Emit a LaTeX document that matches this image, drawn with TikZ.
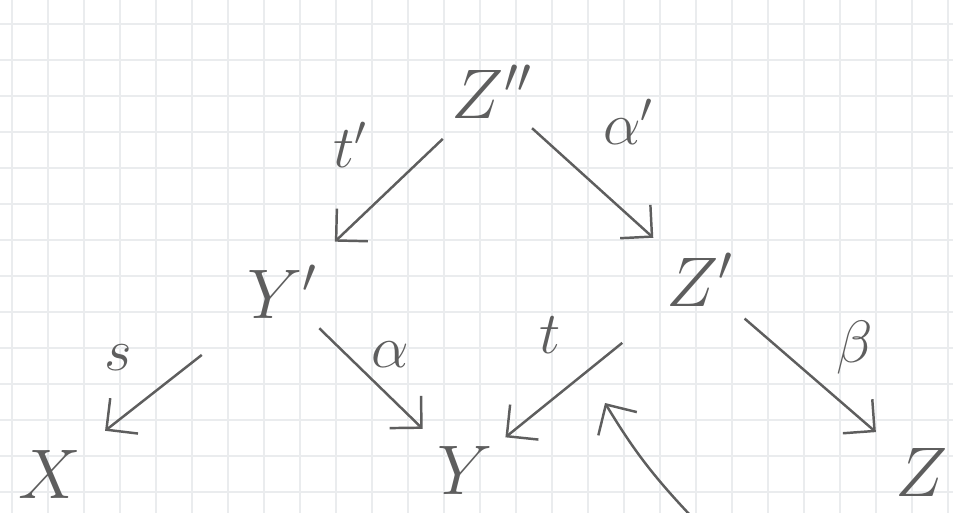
\RequirePackage{fix-cm}
\documentclass[tikz,border=0pt]{standalone}
\usepackage{tikz}
\usetikzlibrary{arrows.meta}
\definecolor{pencil}{HTML}{5E5E5E}
\definecolor{gridGray}{HTML}{EAECEE}

\begin{document}
\begin{tikzpicture}[
  x=0.02cm, y=-0.02cm,
  obj/.style={text=pencil, font=\fontsize{40}{44}\selectfont, inner sep=0pt},
  lbl/.style={text=pencil, font=\fontsize{34}{38}\selectfont, inner sep=0pt},
  arr/.style={-{Straight Barb[length=4.5mm, width=9mm, line width=1.4pt]},
              draw=pencil, line width=1.4pt},
  gridline/.style={draw=gridGray, line width=0.6pt}
]
\useasboundingbox (0,0) rectangle (953,513);
\fill[white] (0,0) rectangle (953,513);
% squared paper
\foreach \gx in {12,48,...,948} \draw[gridline] (\gx,0) -- (\gx,513);
\foreach \gy in {24,60,...,510} \draw[gridline] (0,\gy) -- (953,\gy);

% objects
\node[obj] (zz) at (492,92) {$Z''$};
\node[obj] (yp) at (282,292) {$Y'$};
\node[obj] (zp) at (700,280) {$Z'$};
\node[obj] (x) at (50,474) {$X$};
\node[obj] (y) at (465,470) {$Y$};
\node[obj] (z) at (922,472) {$Z$};
\coordinate (foot) at (690,515);
\coordinate (tip) at (605,403);

% morphisms
\draw[arr, shorten <=1.36cm, shorten >=1.46cm] (zz.center) -- (yp.center);
\draw[arr, shorten <=1.08cm, shorten >=1.26cm] (zz.center) -- (zp.center);
\draw[arr, shorten <=2.04cm, shorten >=1.4cm] (yp.center) -- (x.center);
\draw[arr, shorten <=1.04cm, shorten >=1.18cm] (yp.center) -- (y.center);
\draw[arr, shorten <=2cm, shorten >=1.04cm] (zp.center) -- (y.center);
\draw[arr, shorten <=1.18cm, shorten >=1.22cm] (zp.center) -- (z.center);
\draw[arr] (foot) to[bend left=6] (tip);

% labels
\node[lbl] (lt2) at (350,145) {$t'$};
\node[lbl] (la2) at (628,122) {$\alpha'$};
\node[lbl] (ls) at (118,358) {$s$};
\node[lbl] (la) at (390,355) {$\alpha$};
\node[lbl] (lt) at (550,335) {$t$};
\node[lbl] (lb) at (855,348) {$\beta$};
\end{tikzpicture}
\end{document}
